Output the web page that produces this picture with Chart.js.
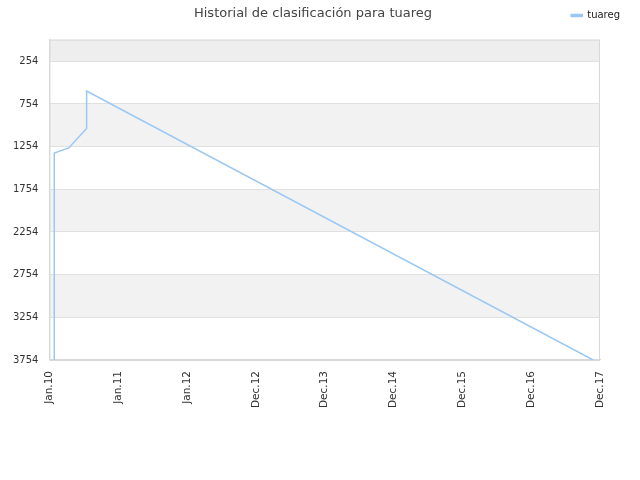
<!DOCTYPE html>
<html>
<head>
  <meta charset="UTF-8">
  <title>Historial de clasificación</title>
  <script src="https://cdn.jsdelivr.net/npm/chart.js"></script>
  <style>
    html, body { margin: 0; padding: 0; background: #fff; }
    #wrap { width: 640px; height: 480px; }
  </style>
</head>
<body>
  <div id="wrap"><canvas id="chart" width="640" height="480"></canvas></div>

  <script>
    // etiquetas del eje x (posiciones 0..8)
    const xLabels = ['Jan.10', 'Jan.11', 'Jan.12', 'Dec.12', 'Dec.13', 'Dec.14', 'Dec.15', 'Dec.16', 'Dec.17'];
    // puntos de la serie: posición en el eje x y puesto
    const rankX = [0.07, 0.07, 0.28, 0.54, 0.54, 7.9];
    const rankY = [3754, 1328, 1269, 1042, 603, 3754];
    const yTicks = [254, 754, 1254, 1754, 2254, 2754, 3254, 3754];
    const bandEdges = [0, 254, 754, 1254, 1754, 2254, 2754, 3254, 3754];
    const bandColors = ['#eeeeee', '#ffffff', '#f2f2f2', '#ffffff', '#f2f2f2', '#ffffff', '#f2f2f2', '#ffffff'];

    const bands = {
      id: 'bands',
      beforeDraw(chart) {
        const { ctx, chartArea, scales } = chart;
        ctx.save();
        for (let i = 0; i < bandColors.length; i++) {
          const y1 = scales.y.getPixelForValue(bandEdges[i]);
          const y2 = scales.y.getPixelForValue(bandEdges[i + 1]);
          ctx.fillStyle = bandColors[i];
          ctx.fillRect(chartArea.left, y1, chartArea.right - chartArea.left, y2 - y1);
        }
        ctx.strokeStyle = '#d8d8d8';
        ctx.lineWidth = 1;
        ctx.strokeRect(chartArea.left + 0.5, chartArea.top + 0.5, chartArea.right - chartArea.left - 1, chartArea.bottom - chartArea.top);
        ctx.restore();
      }
    };

    new Chart(document.getElementById('chart'), {
      type: 'line',
      data: {
        datasets: [{
          label: 'tuareg',
          data: rankX.map((x, i) => ({ x: x, y: rankY[i] })),
          borderColor: '#99c8f4',
          backgroundColor: '#99c8f4',
          borderWidth: 1.5,
          pointRadius: 0,
          fill: false,
          tension: 0
        }]
      },
      options: {
        responsive: false,
        animation: false,
        layout: { padding: { left: 2, right: 16, top: 0, bottom: 69 } },
        plugins: {
          title: {
            display: true,
            text: 'Historial de clasificación para tuareg',
            color: '#444',
            font: { family: 'DejaVu Sans', size: 13, weight: 'normal' },
            padding: { top: 6, bottom: -15 }
          },
          legend: {
            position: 'top',
            align: 'end',
            labels: {
              color: '#222',
              font: { family: 'DejaVu Sans', size: 10 },
              boxWidth: 11,
              boxHeight: 2,
              padding: 4
            }
          },
          tooltip: { enabled: false }
        },
        scales: {
          x: {
            type: 'linear',
            min: 0,
            max: 8,
            afterBuildTicks(axis) {
              axis.ticks = xLabels.map((l, i) => ({ value: i }));
            },
            ticks: {
              callback: (v) => xLabels[v],
              color: '#333',
              font: { family: 'DejaVu Sans', size: 10.5 },
              maxRotation: 90,
              minRotation: 90,
              autoSkip: false
            },
            grid: { display: false },
            border: { color: '#d8d8d8' }
          },
          x2: {
            type: 'linear',
            position: 'top',
            ticks: { display: false },
            grid: { display: false },
            border: { display: false },
            afterFit(axis) { axis.height = 9; }
          },
          y: {
            reverse: true,
            min: 0,
            max: 3754,
            afterBuildTicks(axis) {
              axis.ticks = yTicks.map(v => ({ value: v }));
            },
            ticks: {
              callback: (v) => String(v),
              color: '#333',
              font: { family: 'DejaVu Sans', size: 10 },
              padding: 11
            },
            grid: { color: '#e0e0e0', drawTicks: false },
            border: { color: '#d8d8d8' }
          },
          y2: {
            type: 'linear',
            position: 'right',
            ticks: { display: false },
            grid: { display: false },
            border: { display: false },
            afterFit(axis) { axis.width = 24; }
          }
        }
      },
      plugins: [bands]
    });
  </script>
</body>
</html>
